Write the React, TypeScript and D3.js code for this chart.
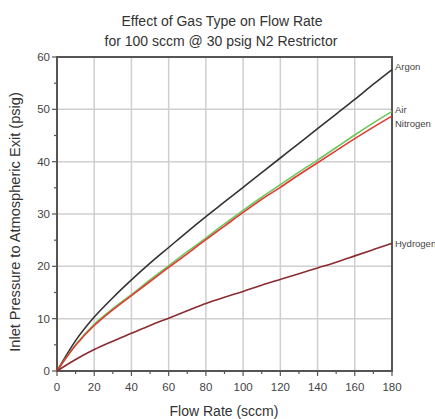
import React from 'react';
import * as d3 from 'd3';

const flow = [0, 10, 20, 30, 40, 50, 60, 70, 80, 90, 100, 110, 120, 130, 140, 150, 160, 170, 180];
const argon = [0, 5.8, 10.3, 14, 17.4, 20.6, 23.6, 26.6, 29.5, 32.3, 35.1, 37.9, 40.7, 43.5, 46.3, 49.1, 51.9, 54.8, 57.6];
const air = [0, 5, 8.9, 11.9, 14.6, 17.4, 20.1, 22.8, 25.4, 28.1, 30.7, 33.2, 35.6, 38, 40.3, 42.7, 45.1, 47.4, 49.6];
const nitrogen = [0, 4.9, 8.7, 11.7, 14.4, 17.1, 19.8, 22.4, 25.1, 27.7, 30.3, 32.8, 35.1, 37.5, 39.8, 42.1, 44.4, 46.6, 48.7];
const hydrogen = [0, 2.2, 4.1, 5.7, 7.2, 8.7, 10.1, 11.5, 12.9, 14.1, 15.2, 16.4, 17.5, 18.6, 19.7, 20.8, 22, 23.2, 24.4];

const series = [
  { name: 'Argon', values: argon, color: '#333333', labelDy: -3 },
  { name: 'Air', values: air, color: '#6cc65a', labelDy: -2 },
  { name: 'Nitrogen', values: nitrogen, color: '#e23a34', labelDy: 8 },
  { name: 'Hydrogen', values: hydrogen, color: '#8a2c30', labelDy: 0 },
];

const xTicks = [0, 20, 40, 60, 80, 100, 120, 140, 160, 180];
const yTicks = [0, 10, 20, 30, 40, 50, 60];

const W = 435;
const H = 419;
const left = 57;
const right = 392;
const top = 57;
const bottom = 371;

export default function App() {
  const x = d3.scaleLinear().domain([0, 180]).range([left, right]);
  const y = d3.scaleLinear().domain([0, 60]).range([bottom, top]);
  const line = d3
    .line<number>()
    .x((_, i) => x(flow[i]))
    .y((d) => y(d))
    .curve(d3.curveMonotoneX);

  const font = 'Liberation Sans, Arial, sans-serif';
  const minorX = d3.range(0, 181, 10);
  const minorY = d3.range(0, 61, 5);

  return (
    <svg width={W} height={H} style={{ position: 'absolute', left: 0, top: 0 }} fontFamily={font}>
      <rect width={W} height={H} fill="#fff" />
      <text x={222} y={26} textAnchor="middle" fontSize={14} fill="#333">
        Effect of Gas Type on Flow Rate
      </text>
      <text x={221} y={46} textAnchor="middle" fontSize={14} fill="#333">
        for 100 sccm @ 30 psig N2 Restrictor
      </text>

      {xTicks.slice(1).map((t) => (
        <line key={'gx' + t} x1={x(t)} x2={x(t)} y1={top} y2={bottom} stroke="#cfcfcf" strokeWidth={1.5} />
      ))}
      {yTicks.slice(1).map((t) => (
        <line key={'gy' + t} x1={left} x2={right} y1={y(t)} y2={y(t)} stroke="#cfcfcf" strokeWidth={1.5} />
      ))}

      {minorX.map((t) => (
        <line key={'tx' + t} x1={x(t)} x2={x(t)} y1={bottom} y2={bottom + (t % 20 === 0 ? 5 : 3)} stroke="#555" strokeWidth={1.2} />
      ))}
      {minorY.map((t) => (
        <line key={'ty' + t} x1={left - (t % 10 === 0 ? 5 : 3)} x2={left} y1={y(t)} y2={y(t)} stroke="#555" strokeWidth={1.2} />
      ))}

      <rect x={left} y={top} width={right - left} height={bottom - top} fill="none" stroke="#555" strokeWidth={2} />

      {series.map((s) => (
        <path key={s.name} d={line(s.values) || ''} fill="none" stroke={s.color} strokeWidth={1.6} />
      ))}

      {series.map((s) => (
        <text
          key={'l' + s.name}
          x={right + 3}
          y={y(s.values[s.values.length - 1]) + s.labelDy}
          dy="0.35em"
          fontSize={9.5}
          fill="#444"
        >
          {s.name}
        </text>
      ))}

      {xTicks.map((t) => (
        <text key={'xl' + t} x={x(t)} y={bottom + 20} textAnchor="middle" fontSize={11.5} fill="#444">
          {t}
        </text>
      ))}
      {yTicks.map((t) => (
        <text key={'yl' + t} x={left - 7} y={y(t)} dy="0.35em" textAnchor="end" fontSize={11.5} fill="#444">
          {t}
        </text>
      ))}

      <text x={224} y={416} textAnchor="middle" fontSize={14} fill="#333">
        Flow Rate (sccm)
      </text>
      <text
        transform={`translate(20, 222) rotate(-90)`}
        textAnchor="middle"
        fontSize={14.6}
        fill="#333"
      >
        Inlet Pressure to Atmospheric Exit (psig)
      </text>
    </svg>
  );
}
